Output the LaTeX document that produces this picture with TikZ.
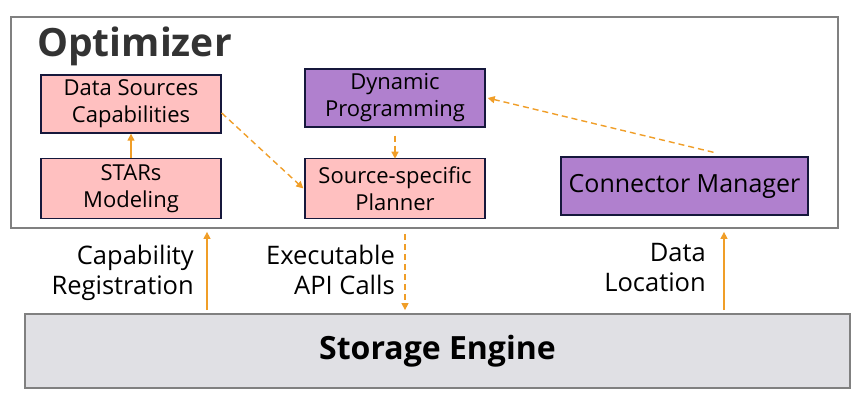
\documentclass[tikz,border=0pt]{standalone}
\usepackage{fontspec}
\setmainfont{Open Sans}
\usepackage{tikz}
\usetikzlibrary{arrows.meta,positioning,calc}
\definecolor{marino}{RGB}{22,24,60}
\definecolor{rosa}{RGB}{255,192,192}
\definecolor{morado}{RGB}{176,128,206}
\definecolor{naranja}{RGB}{240,158,40}
\definecolor{grisbor}{RGB}{128,128,128}
\definecolor{grisfon}{RGB}{224,224,228}
\definecolor{titulo}{RGB}{51,51,51}
\tikzset{
  caja/.style={rectangle,draw=marino,line width=1.4pt,fill=rosa,align=center,
    minimum width=180pt,minimum height=58pt,inner sep=2pt,
    font=\fontsize{22}{27}\selectfont},
  cajam/.style={caja,fill=morado},
  flecha/.style={-{Triangle[length=7pt,width=7pt]},naranja,line width=1.4pt},
  flechap/.style={flecha,dash pattern=on 6pt off 4pt},
  etiqueta/.style={align=right,inner sep=0pt,font=\fontsize{25.5}{30}\selectfont},
}
\begin{document}
\begin{tikzpicture}[x=1pt,y=-1pt]
    \useasboundingbox (0,0) rectangle (862,404);
    \node[draw=grisbor,line width=1.8pt,minimum width=827pt,minimum height=211pt] (opt) at (424.5,122.5) {};
    \node[anchor=base west,inner sep=0pt,text=titulo,font=\fontsize{39}{42}\selectfont\bfseries] (tit) at (37,57) {Optimizer};
    \node[caja] (dsc) at (131,104) {Data Sources\\Capabilities};
    \node[caja,below=24pt of dsc,minimum height=60pt] (stars) {STARs\\Modeling};
    \node[cajam] (dp) at (395,98) {Dynamic\\Programming};
    \node[caja,below=30pt of dp,minimum height=60pt] (ssp) {Source-specific\\Planner};
    \node[cajam,minimum width=247pt,font=\fontsize{25}{29}\selectfont] (cm) at (684.5,186) {Connector Manager};
    \node[draw=grisbor,line width=1.8pt,fill=grisfon,minimum width=825pt,minimum height=74pt,
      font=\fontsize{32}{36}\selectfont\bfseries] (se) at (437.5,351) {Storage Engine};
    \draw[flecha] (stars) -- (dsc);
    \draw[flechap] ([yshift=-9pt]dsc.east) -- ([xshift=-1pt]ssp.west);
    \draw[flechap] ([yshift=-8pt]dp.south) -- ([yshift=-1pt]ssp.north);
    \draw[flechap] ([xshift=29pt,yshift=4pt]cm.north) -- ([xshift=2pt]dp.east);
    % interfaz con el motor
    \node[etiqueta,anchor=east] (capreg) at (194,273) {Capability\\Registration};
    \node[etiqueta,anchor=east] (exe) at (395,270) {Executable\\API Calls};
    \node[etiqueta,anchor=east] (dloc) at (706,268) {Data\\Location};
    \coordinate (xcap) at (207,0);
    \coordinate (xexe) at (405,0);
    \coordinate (xdat) at (724,0);
    \draw[flecha] ([yshift=3pt]se.north -| xcap) -- ([yshift=-3pt]opt.south -| xcap);
    \draw[flechap] ([yshift=-5pt]opt.south -| xexe) -- ([yshift=3pt]se.north -| xexe);
    \draw[flecha] ([yshift=3pt]se.north -| xdat) -- ([yshift=-3pt]opt.south -| xdat);
  \end{tikzpicture}
\end{document}
